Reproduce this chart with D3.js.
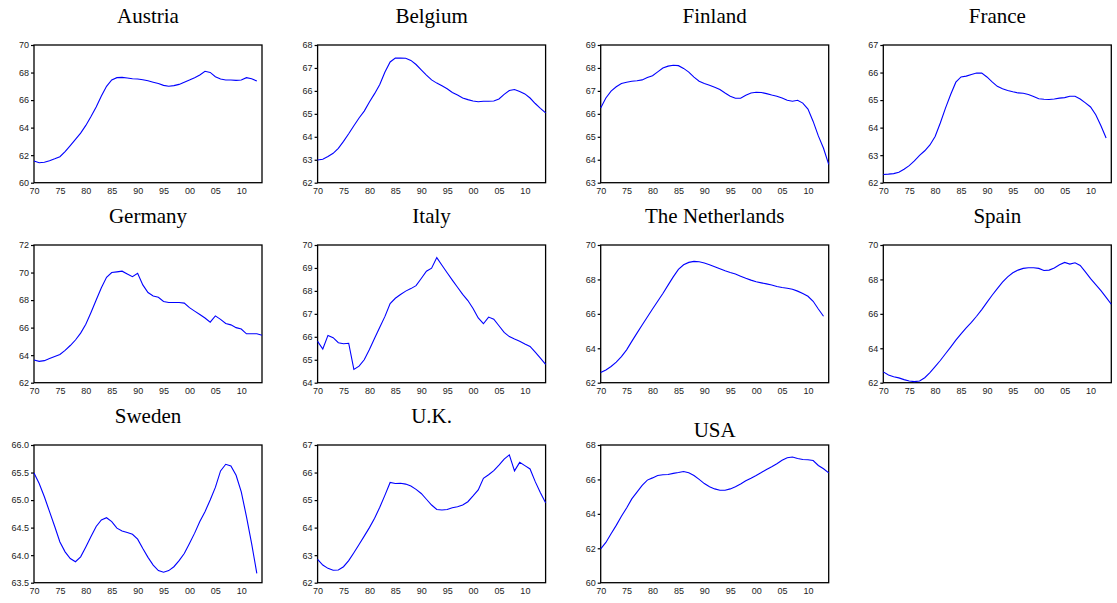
<!DOCTYPE html>
<html>
<head>
<meta charset="utf-8">
<script src="https://cdn.jsdelivr.net/npm/d3@7"></script>
<style>
  html, body { margin: 0; padding: 0; background: #fff; }
  svg { display: block; }
  .title { font-family: "Liberation Serif", "Times New Roman", serif; font-size: 21px; fill: #000; }
  .tick text { font-family: "Liberation Sans", Arial, sans-serif; font-size: 9px; fill: #222; }
</style>
</head>
<body>
<svg id="chart" width="1117" height="603"></svg>
<script>
// Annual series, 1970 onward
const firstYear = 1970;
const lastYear = 2014;

const countries = ["Austria", "Belgium", "Finland", "France", "Germany", "Italy",
  "The Netherlands", "Spain", "Sweden", "U.K.", "USA"];

const austria = [61.57, 61.45, 61.48, 61.6, 61.74, 61.89, 62.25, 62.69, 63.15, 63.6,
  64.16, 64.8, 65.5, 66.3, 67.0, 67.46, 67.63, 67.65, 67.6, 67.55,
  67.53, 67.48, 67.4, 67.3, 67.2, 67.07, 67.0, 67.05, 67.14, 67.3,
  67.46, 67.63, 67.82, 68.09, 68.01, 67.7, 67.53, 67.46, 67.46, 67.43,
  67.46, 67.63, 67.55, 67.38];
const belgium = [62.99, 63.02, 63.14, 63.28, 63.5, 63.8, 64.13, 64.48, 64.82, 65.12,
  65.52, 65.88, 66.28, 66.82, 67.26, 67.43, 67.43, 67.42, 67.33, 67.15,
  66.92, 66.69, 66.48, 66.34, 66.22, 66.09, 65.93, 65.82, 65.69, 65.62,
  65.56, 65.53, 65.55, 65.55, 65.56, 65.65, 65.85, 66.02, 66.06, 65.97,
  65.87, 65.69, 65.45, 65.24, 65.04];
const finland = [66.26, 66.69, 66.99, 67.18, 67.32, 67.38, 67.42, 67.44, 67.48, 67.58,
  67.66, 67.83, 68.0, 68.08, 68.12, 68.1, 67.98, 67.82, 67.6, 67.42,
  67.32, 67.25, 67.16, 67.06, 66.91, 66.77, 66.68, 66.68, 66.81, 66.91,
  66.94, 66.93, 66.88, 66.82, 66.77, 66.69, 66.59, 66.55, 66.59, 66.47,
  66.21, 65.67, 65.04, 64.5, 63.8];
const france = [62.3, 62.31, 62.33, 62.38, 62.49, 62.62, 62.79, 62.99, 63.16, 63.37,
  63.68, 64.17, 64.71, 65.2, 65.65, 65.84, 65.87, 65.93, 65.98, 65.98,
  65.84, 65.66, 65.5, 65.41, 65.35, 65.3, 65.26, 65.25, 65.2, 65.13,
  65.05, 65.03, 65.02, 65.04, 65.07, 65.09, 65.14, 65.14, 65.04, 64.9,
  64.75, 64.47, 64.07, 63.62];
const germany = [63.65, 63.55, 63.6, 63.75, 63.9, 64.05, 64.35, 64.7, 65.1, 65.6,
  66.25, 67.1, 68.0, 68.9, 69.65, 70.0, 70.05, 70.1, 69.9, 69.7,
  69.95, 69.1, 68.55, 68.3, 68.2, 67.9, 67.82, 67.82, 67.82, 67.78,
  67.45, 67.2, 66.95, 66.7, 66.4, 66.85, 66.6, 66.3, 66.2, 66.0,
  65.9, 65.55, 65.55, 65.55, 65.45];
const italy = [65.8, 65.47, 66.06, 65.96, 65.74, 65.7, 65.72, 64.58, 64.72, 65.0,
  65.45, 65.94, 66.42, 66.89, 67.45, 67.68, 67.84, 67.99, 68.1, 68.23,
  68.54, 68.86, 68.99, 69.45, 69.12, 68.79, 68.47, 68.16, 67.85, 67.58,
  67.23, 66.82, 66.57, 66.86, 66.77, 66.48, 66.19, 66.01, 65.9, 65.81,
  65.69, 65.58, 65.33, 65.07, 64.8];
const netherlands = [62.59, 62.74, 62.94, 63.19, 63.52, 63.91, 64.4, 64.88, 65.35, 65.82,
  66.28, 66.73, 67.18, 67.67, 68.15, 68.58, 68.85, 68.99, 69.05, 69.03,
  68.95, 68.85, 68.74, 68.62, 68.5, 68.4, 68.31, 68.19, 68.07, 67.96,
  67.86, 67.8, 67.74, 67.68, 67.59, 67.53, 67.49, 67.43, 67.32, 67.18,
  67.02, 66.73, 66.28, 65.86];
const spain = [62.63, 62.45, 62.35, 62.28, 62.18, 62.1, 62.06, 62.1, 62.29, 62.58,
  62.93, 63.29, 63.68, 64.07, 64.47, 64.84, 65.18, 65.51, 65.86, 66.25,
  66.67, 67.08, 67.47, 67.84, 68.15, 68.39, 68.54, 68.64, 68.68, 68.68,
  68.64, 68.52, 68.54, 68.66, 68.85, 68.99, 68.89, 68.97, 68.81, 68.44,
  68.05, 67.7, 67.35, 66.96, 66.56];
const sweden = [65.49, 65.3, 65.06, 64.79, 64.52, 64.24, 64.06, 63.94, 63.88, 63.97,
  64.15, 64.34, 64.52, 64.64, 64.68, 64.61, 64.49, 64.44, 64.41, 64.38,
  64.29, 64.12, 63.96, 63.82, 63.72, 63.69, 63.72, 63.79, 63.9, 64.03,
  64.21, 64.4, 64.61, 64.79, 65.0, 65.23, 65.53, 65.65, 65.62, 65.45,
  65.15, 64.7, 64.21, 63.67];
const uk = [62.85, 62.64, 62.52, 62.45, 62.46, 62.58, 62.8, 63.09, 63.39, 63.69,
  64.0, 64.34, 64.74, 65.18, 65.64, 65.6, 65.61, 65.58, 65.51, 65.39,
  65.24, 65.03, 64.82, 64.66, 64.64, 64.66, 64.72, 64.76, 64.82, 64.94,
  65.15, 65.37, 65.79, 65.92, 66.07, 66.27, 66.49, 66.64, 66.06, 66.37,
  66.25, 66.13, 65.67, 65.27, 64.9];
const usa = [61.97, 62.34, 62.84, 63.33, 63.86, 64.34, 64.87, 65.26, 65.65, 65.96,
  66.09, 66.23, 66.27, 66.29, 66.35, 66.4, 66.46, 66.39, 66.23, 66.0,
  65.76, 65.57, 65.45, 65.37, 65.37, 65.45, 65.57, 65.74, 65.92, 66.07,
  66.23, 66.4, 66.58, 66.74, 66.91, 67.11, 67.26, 67.3, 67.22, 67.16,
  67.14, 67.1, 66.81, 66.62, 66.38];

// Y tick values for each panel (first and last give the axis range)
const austriaTicks = [60, 62, 64, 66, 68, 70];
const belgiumTicks = [62, 63, 64, 65, 66, 67, 68];
const finlandTicks = [63, 64, 65, 66, 67, 68, 69];
const franceTicks = [62, 63, 64, 65, 66, 67];
const germanyTicks = [62, 64, 66, 68, 70, 72];
const italyTicks = [64, 65, 66, 67, 68, 69, 70];
const netherlandsTicks = [62, 64, 66, 68, 70];
const spainTicks = [62, 64, 66, 68, 70];
const swedenTicks = [63.5, 64.0, 64.5, 65.0, 65.5, 66.0];
const ukTicks = [62, 63, 64, 65, 66, 67];
const usaTicks = [60, 62, 64, 66, 68];

// X tick years and their two-digit labels
const xTickYears = [1970, 1975, 1980, 1985, 1990, 1995, 2000, 2005, 2010];
const xTickLabels = ["70", "75", "80", "85", "90", "95", "00", "05", "10"];

const seriesList = [austria, belgium, finland, france, germany, italy,
  netherlands, spain, sweden, uk, usa];
const tickList = [austriaTicks, belgiumTicks, finlandTicks, franceTicks, germanyTicks,
  italyTicks, netherlandsTicks, spainTicks, swedenTicks, ukTicks, usaTicks];

// Grid layout
const colLeft = [34, 317.6, 600.7, 883.3];
const rowTop = [45, 245, 445];
const plotW = 228;
const plotH = 137.7;

const svg = d3.select("#chart");

countries.forEach((name, i) => {
  const col = i % 4, row = Math.floor(i / 4);
  const left = colLeft[col], top = rowTop[row];
  const ticks = tickList[i];
  const values = seriesList[i];

  const x = d3.scaleLinear().domain([firstYear, lastYear]).range([0, plotW]);
  const y = d3.scaleLinear().domain([ticks[0], ticks[ticks.length - 1]]).range([plotH, 0]);

  const g = svg.append("g").attr("transform", `translate(${left},${top})`);

  // Panel title (the USA panel sits closer to its plot)
  const titleY = name === "USA" ? -8.5 : -22;
  g.append("text")
    .attr("class", "title")
    .attr("x", plotW / 2)
    .attr("y", titleY)
    .attr("text-anchor", "middle")
    .text(name);

  // Y axis
  const fmt = ticks.some(t => !Number.isInteger(t)) ? d3.format(".1f") : d3.format("d");
  const yAxis = d3.axisLeft(y).tickValues(ticks).tickFormat(fmt).tickSize(3).tickPadding(2);
  const ya = g.append("g").call(yAxis);
  ya.select(".domain").remove();
  ya.selectAll(".tick line").attr("stroke", "#000").attr("stroke-width", 1.2);

  // X axis
  const xAxis = d3.axisBottom(x).tickValues(xTickYears)
    .tickFormat((d, k) => xTickLabels[k]).tickSize(0).tickPadding(5);
  const xa = g.append("g").attr("transform", `translate(0,${plotH})`).call(xAxis);
  xa.select(".domain").remove();

  // Frame
  g.append("rect")
    .attr("x", 0).attr("y", 0)
    .attr("width", plotW).attr("height", plotH)
    .attr("fill", "none")
    .attr("stroke", "#000")
    .attr("stroke-width", 1.3);

  // Series line
  const line = d3.line()
    .x((d, k) => x(firstYear + k))
    .y(d => y(d));
  g.append("path")
    .datum(values)
    .attr("fill", "none")
    .attr("stroke", "#0000ff")
    .attr("stroke-width", 1.1)
    .attr("d", line);
});
</script>
</body>
</html>
